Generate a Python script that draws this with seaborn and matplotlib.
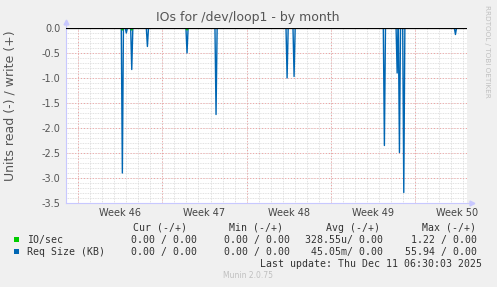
import matplotlib
matplotlib.use("Agg")
import matplotlib.pyplot as plt
import matplotlib.transforms as mtransforms
import seaborn as sns
import pandas as pd

# ---- data (days since start of week 46 boundary) ----
spike_days = [3.68, 4.01, 4.46, 5.76, 9.05, 11.46, 17.36, 17.94, 25.44, 26.50, 26.69, 27.05, 31.34]
req_size = [-2.90, -0.10, -0.83, -0.37, -0.50, -1.73, -1.00, -0.97, -2.35, -0.90, -2.49, -3.29, -0.13]
io_days = [3.68, 4.46, 9.05]
io_sec = [-0.04, -0.04, -0.04]
week_labels = ["Week 46", "Week 47", "Week 48", "Week 49", "Week 50"]
week_starts = [0, 7, 14, 21, 28]
y_ticks = [0.0, -0.5, -1.0, -1.5, -2.0, -2.5, -3.0, -3.5]
x_start, x_end = -1.0, 32.3

legend_names = ["IO/sec", "Req Size (KB)"]
legend_cur = ["0.00 / 0.00", "0.00 / 0.00"]
legend_min = ["0.00 / 0.00", "0.00 / 0.00"]
legend_avg = ["328.55u/ 0.00", "45.05m/ 0.00"]
legend_max = ["1.22 / 0.00", "55.94 / 0.00"]
colors = ["#00CC00", "#0066B3"]

def spike_frame(days, vals, name, half=0.09):
    rows = [(x_start, 0.0)]
    for d, v in zip(days, vals):
        rows += [(d - half, 0.0), (d, v), (d + half, 0.0)]
    rows.append((31.9, 0.0))
    df = pd.DataFrame(rows, columns=["day", "value"])
    df["series"] = name
    return df

df = pd.concat([spike_frame(spike_days, req_size, "Req Size (KB)"),
                spike_frame(io_days, io_sec, "IO/sec")], ignore_index=True)

sns.set_style("white")
plt.rcParams["font.family"] = ["DejaVu Sans"]
plt.rcParams["axes.unicode_minus"] = False

W, H = 497, 287
fig = plt.figure(figsize=(W / 100, H / 100), dpi=100, facecolor="#F0F0F0")
ax = fig.add_axes([66 / W, (H - 203) / H, 401 / W, 175 / H])
ax.set_facecolor("white")

# grid
for d in range(-1, 33):
    ax.axvline(d, color="#d8d8d8", lw=0.6, ls=(0, (1, 1)), zorder=0)
for y in [i * 0.1 for i in range(-35, 1)]:
    ax.axhline(y, color="#d8d8d8", lw=0.6, ls=(0, (1, 1)), zorder=0)
for d in week_starts:
    ax.axvline(d, color="#f0a0a0", lw=0.7, ls=(0, (1, 2)), zorder=0.5)
for y in y_ticks:
    ax.axhline(y, color="#f0a0a0", lw=0.7, ls=(0, (1, 2)), zorder=0.5)

sns.lineplot(data=df, x="day", y="value", hue="series", palette={"Req Size (KB)": colors[1], "IO/sec": colors[0]},
             hue_order=["Req Size (KB)", "IO/sec"], estimator=None, sort=False, lw=1.0, legend=False, ax=ax, zorder=3)
ax.axhline(0, color="black", lw=0.9, zorder=4)

ax.set_xlim(x_start, x_end)
ax.set_ylim(-3.5, 0.0)
ax.set_yticks(y_ticks)
ax.set_yticklabels([f"{v:.1f}" for v in y_ticks])
ax.set_xticks([])
ax.tick_params(axis="y", length=0, labelsize=7, colors="#555555", pad=4)
ax.set_xlabel("")
ax.set_ylabel("")
for s in ["top", "right"]:
    ax.spines[s].set_visible(False)
for s in ["left", "bottom"]:
    ax.spines[s].set_color("#c8c8ff")
    ax.spines[s].set_linewidth(0.8)

# axis arrows
ax.plot([0, 0], [1.0, 1.035], color="#c8c8ff", lw=0.8, transform=ax.transAxes, clip_on=False)
ax.plot([0], [1.035], marker="^", ms=3.5, color="#c8c8ff", transform=ax.transAxes, clip_on=False)
ax.plot([1.0, 1.012], [0, 0], color="#c8c8ff", lw=0.8, transform=ax.transAxes, clip_on=False)
ax.plot([1.012], [0], marker=">", ms=3.5, color="#c8c8ff", transform=ax.transAxes, clip_on=False)

trans = mtransforms.blended_transform_factory(ax.transData, fig.transFigure)
for lab, d in zip(week_labels, week_starts):
    ax.text(d + 3.5, 1 - 212.5 / H, lab, transform=trans, ha="center", va="center", fontsize=7, color="#444444")

def fy(py):
    return 1 - py / H

fig.text(10.5 / W, fy(106), "Units read (-) / write (+)", ha="center", va="center", rotation=90,
         fontsize=9, color="#555555")
fig.text(248 / W, fy(18), "IOs for /dev/loop1 - by month", ha="center", va="center", fontsize=9, color="#555555")
fig.text(486.5 / W, fy(51), "RRDTOOL / TOBI OETIKER", ha="center", va="center", rotation=270, fontsize=5.2, color="#c0c0c0")

mono = dict(family="DejaVu Sans Mono", fontsize=7.1, color="#333333", va="center")
heads = ["Cur (-/+)", "Min (-/+)", "Avg (-/+)", "Max (-/+)"]
head_right = [187, 283, 380, 476]
for h, xr in zip(heads, head_right):
    fig.text(xr / W, fy(227.7), h, ha="right", **mono)
row_y = [239.5, 251.7]
val_right = [197, 290, 383, 477]
for i, name in enumerate(legend_names):
    fig.patches.append(plt.Rectangle((14 / W, fy(row_y[i] + 2.5)), 5 / W, 5 / H, transform=fig.transFigure,
                                     facecolor=colors[i], edgecolor="none"))
    fig.text(27 / W, fy(row_y[i]), name, ha="left", **mono)
    for col, xr in zip([legend_cur, legend_min, legend_avg, legend_max], val_right):
        fig.text(xr / W, fy(row_y[i]), col[i], ha="right", **mono)
fig.text(482 / W, fy(263.7), "Last update: Thu Dec 11 06:30:03 2025", ha="right", **mono)
fig.text(248 / W, fy(276), "Munin 2.0.75", ha="center", va="center", fontsize=5.5, color="#c0c0c0")

fig.savefig("out.png", dpi=100, facecolor=fig.get_facecolor())
